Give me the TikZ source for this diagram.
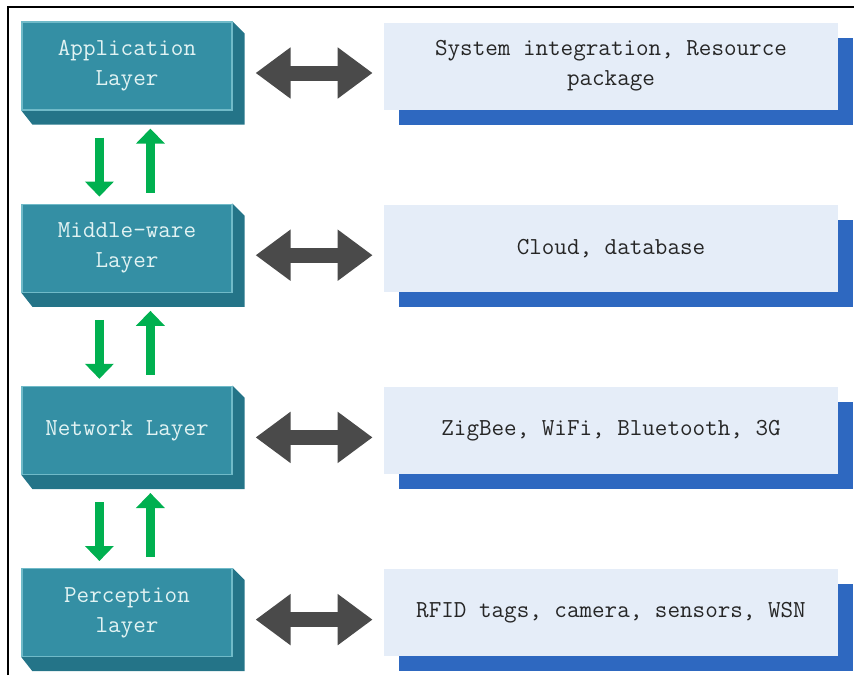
\documentclass[tikz,border=0pt]{standalone}
\usepackage{fontspec}
\usetikzlibrary{arrows.meta, positioning, shadows, backgrounds}

\definecolor{tealfront}{RGB}{52,143,164}
\definecolor{tealside}{RGB}{36,116,136}
\definecolor{tealedge}{RGB}{112,186,200}
\definecolor{layertext}{RGB}{226,243,243}
\definecolor{paleblue}{RGB}{229,237,248}
\definecolor{shadowblue}{RGB}{46,104,192}
\definecolor{arrowgray}{RGB}{74,74,74}
\definecolor{flowgreen}{RGB}{0,176,80}

\begin{document}
\begin{tikzpicture}[
                layer/.style={draw=tealedge, line width=0.6pt, fill=tealfront,
                              minimum width=105pt, minimum height=44pt, inner sep=0pt,
                              align=center, text=layertext,
                              font=\ttfamily\fontsize{12.2}{15}\selectfont},
                role/.style={fill=paleblue, minimum width=227pt, minimum height=43.5pt,
                             inner sep=0pt, align=center, text=black!85,
                             font=\ttfamily\fontsize{12.2}{15}\selectfont,
                             general shadow={fill=shadowblue, shadow xshift=7.5pt, shadow yshift=-7.5pt}},
                link/.style={{Triangle[length=17.5pt, width=24.5pt]}-{Triangle[length=17.5pt, width=24.5pt]},
                             line width=7.5pt, arrowgray},
                flow/.style={-{Triangle[length=7.5pt, width=14pt]}, line width=4.5pt, flowgreen}]

                \useasboundingbox (0,0) rectangle (427pt,-337.5pt);

                % Frame
                \draw[line width=1pt] (4pt,-337.5pt) -- (4pt,-3.7pt) -- (427pt,-3.7pt);

                % Layers - left side
                \node[layer] (app) at (63.5pt,-33pt) {Application\\Layer};
                \node[layer, below=46.5pt of app] (mid) {Middle-ware\\Layer};
                \node[layer, below=46.5pt of mid] (net) {Network Layer};
                \node[layer, below=46.5pt of net] (per) {Perception\\layer};

                % Block depth behind the layers
                \begin{scope}[on background layer]
                    \foreach \n in {app, mid, net, per}
                        \fill[tealside] (\n.north east) -- ([shift={(6pt,-6pt)}]\n.north east)
                            -- ([shift={(6pt,-7pt)}]\n.south east) -- ([shift={(5.5pt,-7pt)}]\n.south west)
                            -- (\n.south west) -- cycle;
                \end{scope}

                % Technologies - right side
                \node[role, right=75.5pt of app] (sys) {System integration, Resource\\package};
                \node[role, right=75.5pt of mid] (cloud) {Cloud, database};
                \node[role, right=75.5pt of net] (radio) {ZigBee, WiFi, Bluetooth, 3G};
                \node[role, right=75.5pt of per] (sense) {RFID tags, camera, sensors, WSN};

                % Two-way links (gray)
                \draw[link] ([shift={(11.5pt,-3.5pt)}]app.east) -- ([shift={(-5.5pt,-3.5pt)}]sys.west);
                \draw[link] ([shift={(11.5pt,-3.5pt)}]mid.east) -- ([shift={(-5.5pt,-3.5pt)}]cloud.west);
                \draw[link] ([shift={(11.5pt,-3.5pt)}]net.east) -- ([shift={(-5.5pt,-3.5pt)}]radio.west);
                \draw[link] ([shift={(11.5pt,-3.5pt)}]per.east) -- ([shift={(-5.5pt,-3.5pt)}]sense.west);

                % Data flow between layers (green)
                \draw[flow] ([shift={(39pt,-13.5pt)}]app.south west) -- ([shift={(39pt,3.5pt)}]mid.north west);
                \draw[flow] ([shift={(64.5pt,5.5pt)}]mid.north west) -- ([shift={(64.5pt,-9pt)}]app.south west);
                \draw[flow] ([shift={(39pt,-13.5pt)}]mid.south west) -- ([shift={(39pt,3.5pt)}]net.north west);
                \draw[flow] ([shift={(64.5pt,5.5pt)}]net.north west) -- ([shift={(64.5pt,-9pt)}]mid.south west);
                \draw[flow] ([shift={(39pt,-13.5pt)}]net.south west) -- ([shift={(39pt,3.5pt)}]per.north west);
                \draw[flow] ([shift={(64.5pt,5.5pt)}]per.north west) -- ([shift={(64.5pt,-9pt)}]net.south west);
            \end{tikzpicture}
\end{document}
